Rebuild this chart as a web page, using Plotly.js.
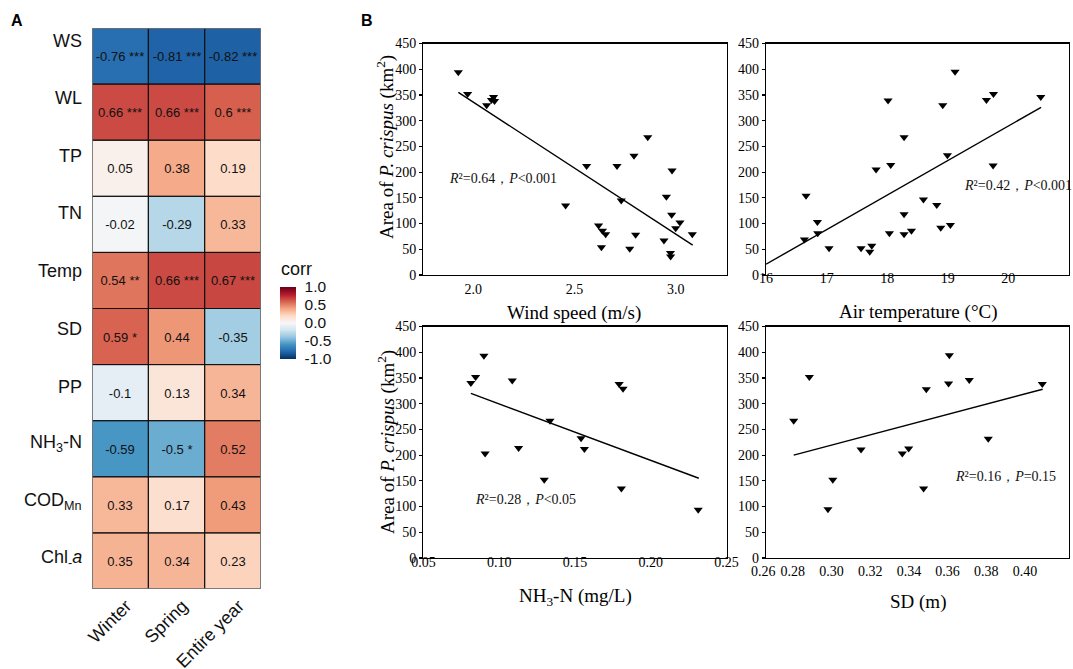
<!DOCTYPE html>
<html>
<head>
<meta charset="utf-8">
<script src="https://cdn.plot.ly/plotly-3.0.1.min.js"></script>
<style>html,body{margin:0;padding:0;background:#fff;}#chart{width:1073px;height:669px;}</style>
</head>
<body>
<div id="chart"></div>
<script>
// ---------- Panel A: correlation heatmap data ----------
const rowLabels = ['WS','WL','TP','TN','Temp','SD','PP','NH<sub>3</sub>-N','COD<sub>Mn</sub>','Chl<sub>-</sub><i>a</i>'];
const colLabels = ['Winter','Spring','Entire year'];
const corrWinter = [-0.76, 0.66, 0.05, -0.02, 0.54, 0.59, -0.1, -0.59, 0.33, 0.35];
const corrSpring = [-0.81, 0.66, 0.38, -0.29, 0.66, 0.44, 0.13, -0.5, 0.17, 0.34];
const corrYear   = [-0.82, 0.6, 0.19, 0.33, 0.67, -0.35, 0.34, 0.52, 0.43, 0.23];
const sigWinter  = ['***','***','','','**','*','','','',''];
const sigSpring  = ['***','***','','','***','','','*','',''];
const sigYear    = ['***','***','','','***','','','','',''];
const cbTickVals = [-1, -0.5, 0, 0.5, 1];
const cbTickText = ['-1.0','-0.5','0.0','0.5','1.0'];

// ---------- Panel B: scatter data ----------
const windX = [1.926,1.972,2.066,2.09,2.10,2.105,2.456,2.560,2.619,2.638,2.654,2.633,2.710,2.731,2.794,2.802,2.773,2.862,2.942,2.954,2.982,2.980,3.021,3.000,2.974,2.975,3.082];
const windY = [394,352,330,340,346,338,135,212,96,86,79,54,212,145,232,78,51,268,67,152,203,117,102,91,43,36,79];
const windFitX = [1.926, 3.084];
const windFitY = [355, 58];

const tempX = [16.633,16.660,16.848,16.853,17.040,17.568,17.745,17.712,17.816,18.014,18.036,18.058,18.278,18.278,18.278,18.400,18.598,18.818,18.884,18.917,18.994,19.043,19.120,19.638,19.754,19.748,20.535];
const tempY = [69,154,103,81,52,52,57,45,205,339,81,214,268,118,79,86,147,136,92,330,233,97,395,340,352,213,346];
const tempFitX = [16.0, 20.54];
const tempFitY = [21, 326];

const nh3X = [0.0813,0.0844,0.0899,0.0907,0.1086,0.1128,0.1335,0.1297,0.1540,0.1562,0.1791,0.1817,0.1806,0.2313];
const nh3Y = [340,352,393,203,345,214,267,152,233,212,338,329,135,94];
const nh3FitX = [0.0813, 0.2317];
const nh3FitY = [320, 155];

const sdX = [0.2805,0.2886,0.2982,0.3007,0.3153,0.3366,0.3399,0.3476,0.3490,0.3609,0.3605,0.3712,0.3810,0.4089];
const sdY = [267,352,95,152,211,203,213,135,328,394,339,346,232,338];
const sdFitX = [0.2805, 0.4091];
const sdFitY = [200, 328];

const windTicks = [2.0, 2.5, 3.0];
const tempTicks = [16, 17, 18, 19, 20, 21];
const nh3Ticks = [0.05, 0.10, 0.15, 0.20, 0.25];
const sdTicks = [0.28, 0.30, 0.32, 0.34, 0.36, 0.38, 0.40, 0.42];
const areaTicks = [0, 50, 100, 150, 200, 250, 300, 350, 400, 450];

const statWind = '<i>R</i>²=0.64，<i>P</i>&lt;0.001';
const statTemp = '<i>R</i>²=0.42，<i>P</i>&lt;0.001';
const statNh3  = '<i>R</i>²=0.28，<i>P</i>&lt;0.05';
const statSd   = '<i>R</i>²=0.16，<i>P</i>=0.15';

// ---------- helpers ----------
const W = 1073, H = 669;
const P = px => px / W;
const Q = py => 1 - py / H;
const SANS = 'Liberation Sans, Arial, sans-serif';
const SERIF = 'Liberation Serif, Times New Roman, serif';

const rdbu = [[0,'#053061'],[0.1,'#2166ac'],[0.2,'#4393c3'],[0.3,'#92c5de'],[0.4,'#d1e5f0'],[0.5,'#f7f7f7'],
              [0.6,'#fddbc7'],[0.7,'#f4a582'],[0.8,'#d6604d'],[0.9,'#b2182b'],[1,'#67001f']];

const z = rowLabels.map((r, i) => [corrWinter[i], corrSpring[i], corrYear[i]]);
const fmt = (v, s) => s ? (v + ' ' + s) : ('' + v);
const txt = rowLabels.map((r, i) => [fmt(corrWinter[i], sigWinter[i]), fmt(corrSpring[i], sigSpring[i]), fmt(corrYear[i], sigYear[i])]);
const rowIdx = rowLabels.map((r, i) => i);
const colIdx = colLabels.map((c, j) => j);

const heat = {
  type: 'heatmap', x: colIdx, y: rowIdx, z: z, text: txt, texttemplate: '%{text}',
  textfont: {family: SANS, size: 13, color: '#111'},
  colorscale: rdbu, zmin: -1, zmax: 1, xaxis: 'x', yaxis: 'y', hoverinfo: 'skip',
  colorbar: {
    x: P(280), xanchor: 'left', xpad: 0, y: Q(323), yanchor: 'middle', ypad: 0,
    len: 72, lenmode: 'pixels', thickness: 16, thicknessmode: 'pixels', outlinewidth: 0,
    tickvals: cbTickVals, ticktext: cbTickText, ticks: 'outside', ticklen: 6, tickcolor: 'rgba(0,0,0,0)',
    tickfont: {family: SANS, size: 15.5, color: '#111'}
  }
};

const pts = (x, y, xa, ya) => ({type: 'scatter', mode: 'markers', x: x, y: y, xaxis: xa, yaxis: ya,
  marker: {symbol: 'triangle-down', size: 8, color: 'black'}, hoverinfo: 'skip'});
const fit = (x, y, xa, ya) => ({type: 'scatter', mode: 'lines', x: x, y: y, xaxis: xa, yaxis: ya,
  line: {color: 'black', width: 1.4}, hoverinfo: 'skip'});

const data = [heat,
  pts(windX, windY, 'x2', 'y2'), fit(windFitX, windFitY, 'x2', 'y2'),
  pts(tempX, tempY, 'x3', 'y3'), fit(tempFitX, tempFitY, 'x3', 'y3'),
  pts(nh3X, nh3Y, 'x4', 'y4'), fit(nh3FitX, nh3FitY, 'x4', 'y4'),
  pts(sdX, sdY, 'x5', 'y5'), fit(sdFitX, sdFitY, 'x5', 'y5')];

const baseAx = {showline: true, mirror: true, linecolor: 'black', linewidth: 1.3, showgrid: false, zeroline: false,
  tickfont: {family: SERIF, size: 14, color: 'black'}, fixedrange: true};
const xAx = (dom, rng, tv, tf, anchor, standoff) => Object.assign({}, baseAx, {domain: dom, range: rng, tickvals: tv,
  tickformat: tf, anchor: anchor, ticks: '', ticklabelstandoff: standoff});
const yAx = (dom, anchor) => Object.assign({}, baseAx, {domain: dom, range: [0, 450], tickvals: areaTicks,
  anchor: anchor, ticks: 'outside', ticklen: 3, tickcolor: 'black', tickwidth: 1.2});

const topDom = [Q(275), Q(43.5)];
const botDom = [Q(558), Q(326.5)];
const leftDom = [P(423.3), P(726.7)];
const rightDom = [P(766), P(1069)];

// heatmap cell borders
const shapes = [];
rowIdx.forEach(i => colIdx.forEach(j => shapes.push({type: 'rect', xref: 'x', yref: 'y',
  x0: j - 0.5, x1: j + 0.5, y0: i - 0.5, y1: i + 0.5, line: {color: '#111', width: 1}, layer: 'above'})));
shapes.push({type: 'rect', xref: 'x', yref: 'y', x0: -0.5, x1: colIdx.length - 0.5, y0: -0.5, y1: rowIdx.length - 0.5,
  line: {color: '#808080', width: 1.5}, layer: 'above'});

const ann = [];
// row labels
rowIdx.forEach(i => ann.push({xref: 'paper', yref: 'y', x: P(84), y: i, xanchor: 'right', yanchor: 'middle',
  yshift: Math.round(15 - 13 * i / (rowIdx.length - 1)), text: rowLabels[i], showarrow: false,
  font: {family: SANS, size: 18, color: '#111'}}));
ann.push({xref: 'paper', yref: 'paper', x: P(279), y: Q(269), xanchor: 'left', yanchor: 'middle', text: 'corr',
  showarrow: false, font: {family: SANS, size: 18, color: '#111'}});
ann.push({xref: 'paper', yref: 'paper', x: P(17.5), y: Q(21), xanchor: 'center', yanchor: 'middle', text: '<b>A</b>',
  showarrow: false, font: {family: SANS, size: 16, color: 'black'}});
ann.push({xref: 'paper', yref: 'paper', x: P(367), y: Q(20), xanchor: 'center', yanchor: 'middle', text: '<b>B</b>',
  showarrow: false, font: {family: SANS, size: 16, color: 'black'}});
// axis titles
const ttl = (x, y, text, angle) => ({xref: 'paper', yref: 'paper', x: P(x), y: Q(y), xanchor: 'center', yanchor: 'middle',
  text: text, textangle: angle || 0, showarrow: false, font: {family: SERIF, size: 19, color: 'black'}});
ann.push(ttl(574, 313, 'Wind speed (m/s)'));
ann.push(ttl(917.5, 312, 'Air temperature (°C)'));
ann.push(ttl(575, 597, 'NH<sub>3</sub>-N (mg/L)'));
ann.push(ttl(917.5, 602, 'SD (m)'));
ann.push(ttl(386, 147, 'Area of <i>P. crispus</i> (km<sup>2</sup>)', -90));
ann.push(ttl(386, 442, 'Area of <i>P. crispus</i> (km<sup>2</sup>)', -90));
// extra left tick label of SD axis
ann.push({xref: 'paper', yref: 'paper', x: P(763), y: Q(571), xanchor: 'center', yanchor: 'middle', text: '0.26',
  showarrow: false, font: {family: SERIF, size: 14, color: 'black'}});
// stats text
const stat = (xa, ya, x, y, text) => ({xref: xa, yref: ya, x: x, y: y, xanchor: 'left', yanchor: 'middle', text: text,
  showarrow: false, font: {family: SERIF, size: 14, color: '#111'}});
ann.push(stat('x2', 'y2', 1.868, 188, statWind));
ann.push(stat('x3', 'y3', 19.23, 173, statTemp));
ann.push(stat('x4', 'y4', 0.083, 113, statNh3));
ann.push(stat('x5', 'y5', 0.3626, 159, statSd));

const layout = {
  width: W, height: H, margin: {l: 0, r: 0, t: 0, b: 0}, paper_bgcolor: 'white', plot_bgcolor: 'white',
  showlegend: false,
  xaxis: {domain: [P(92), P(261)], anchor: 'y', range: [-0.5, 2.5], tickvals: colIdx, ticktext: colLabels,
    tickangle: -45, ticks: '', showline: false, showgrid: false, zeroline: false, ticklabelshift: 6,
    ticklabelstandoff: 2, tickfont: {family: SANS, size: 18, color: '#111'}, fixedrange: true},
  yaxis: {domain: [Q(589), Q(28)], anchor: 'x', range: [rowIdx.length - 0.5, -0.5], showticklabels: false,
    ticks: '', showline: false, showgrid: false, zeroline: false, fixedrange: true},
  xaxis2: xAx(leftDom, [1.753, 3.252], windTicks, '.1f', 'y2', 1),
  yaxis2: yAx(topDom, 'x2'),
  xaxis3: xAx(rightDom, [15.999, 21.001], tempTicks, 'd', 'y3', -10),
  yaxis3: yAx(topDom, 'x3'),
  xaxis4: xAx(leftDom, [0.0499, 0.2501], nh3Ticks, '.2f', 'y4', -9),
  yaxis4: yAx(botDom, 'x4'),
  xaxis5: xAx(rightDom, [0.2662, 0.4227], sdTicks, '.2f', 'y5', 0),
  yaxis5: yAx(botDom, 'x5'),
  shapes: shapes,
  annotations: ann
};

Plotly.newPlot('chart', data, layout, {displayModeBar: false, staticPlot: true});
</script>
</body>
</html>
